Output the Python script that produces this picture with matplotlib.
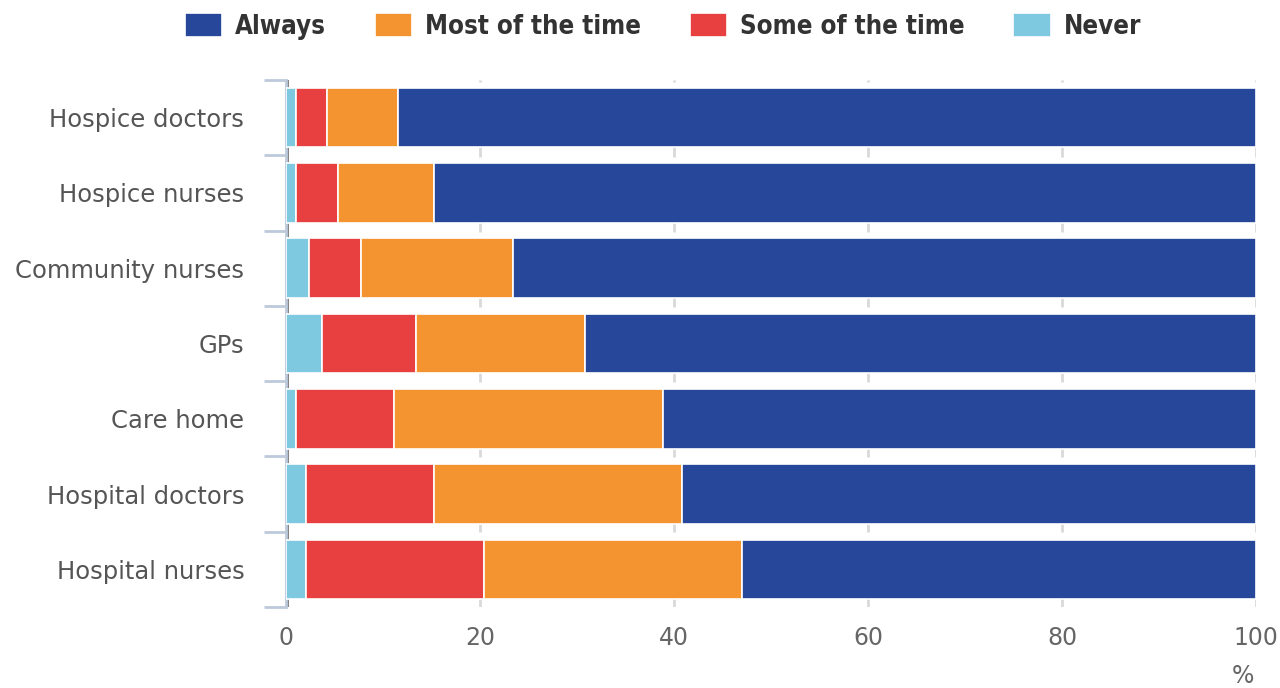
import numpy as np
import matplotlib.pyplot as plt
from matplotlib.ticker import FixedLocator
from matplotlib.font_manager import FontProperties

plt.rcParams['font.family'] = ['DejaVu Sans']

categories = ["Hospice doctors", "Hospice nurses", "Community nurses", "GPs",
              "Care home", "Hospital doctors", "Hospital nurses"]
never = [1.0, 1.0, 2.4, 3.7, 1.0, 2.1, 2.1]
some = [3.2, 4.4, 5.3, 9.7, 10.1, 13.2, 18.3]
most = [7.4, 9.9, 15.7, 17.4, 27.8, 25.5, 26.6]
always = [88.4, 84.7, 76.6, 69.2, 61.1, 59.2, 53.0]

series = [("Never", never, "#7ec9e0"),
          ("Some of the time", some, "#e84040"),
          ("Most of the time", most, "#f39430"),
          ("Always", always, "#27479a")]

fig = plt.figure(figsize=(12.8, 6.88), dpi=100)
ax = fig.add_axes([0.2234, 0.1177, 0.7578, 0.766])

y = np.arange(len(categories))
left = np.zeros(len(categories))
bars = {}
for name, vals, col in series:
    bars[name] = ax.barh(y, vals, left=left, height=0.79, color=col,
                         edgecolor="white", linewidth=1.2, zorder=3)
    left = left + np.array(vals)

ax.set_xlim(0, 100)
ax.set_ylim(len(categories) - 0.5, -0.5)

# grid lines
for gx in [20, 40, 60, 80, 100]:
    ax.axvline(gx, color="#d9d9d9", linewidth=2, dashes=(6, 3), zorder=1)
ax.axvline(0.15, color="#777777", linewidth=2, zorder=1)

ax.set_xticks([0, 20, 40, 60, 80, 100])
ax.set_xticklabels(["0", "20", "40", "60", "80", "100"])
ax.tick_params(axis="x", length=0, labelsize=17, labelcolor="#666666", pad=14)

ax.set_yticks(y)
ax.set_yticklabels(categories)
ax.tick_params(axis="y", which="major", length=0, labelsize=17.5,
               labelcolor="#555555", pad=30)
ax.yaxis.set_minor_locator(FixedLocator(np.arange(-0.5, len(categories), 1)))
ax.tick_params(axis="y", which="minor", length=16, width=2, color="#bccadb")

for s in ["top", "right", "bottom"]:
    ax.spines[s].set_visible(False)
ax.spines["left"].set_color("#bccadb")
ax.spines["left"].set_linewidth(2)

fig.text(0.971, 0.0, "%", fontsize=17, color="#666666", ha="center", va="bottom")

handles = [bars["Always"], bars["Most of the time"], bars["Some of the time"], bars["Never"]]
labels = ["Always", "Most of the time", "Some of the time", "Never"]
legend_font = FontProperties(family="DejaVu Sans", weight="bold",
                             stretch="condensed", size=18.5)
fig.legend(handles, labels, loc="upper center", bbox_to_anchor=(0.518, 1.015),
           ncol=4, frameon=False, handlelength=1.45, handleheight=1.1,
           columnspacing=1.9, handletextpad=0.5,
           prop=legend_font, labelcolor="#333333")

fig.savefig("out.png", dpi=100)
